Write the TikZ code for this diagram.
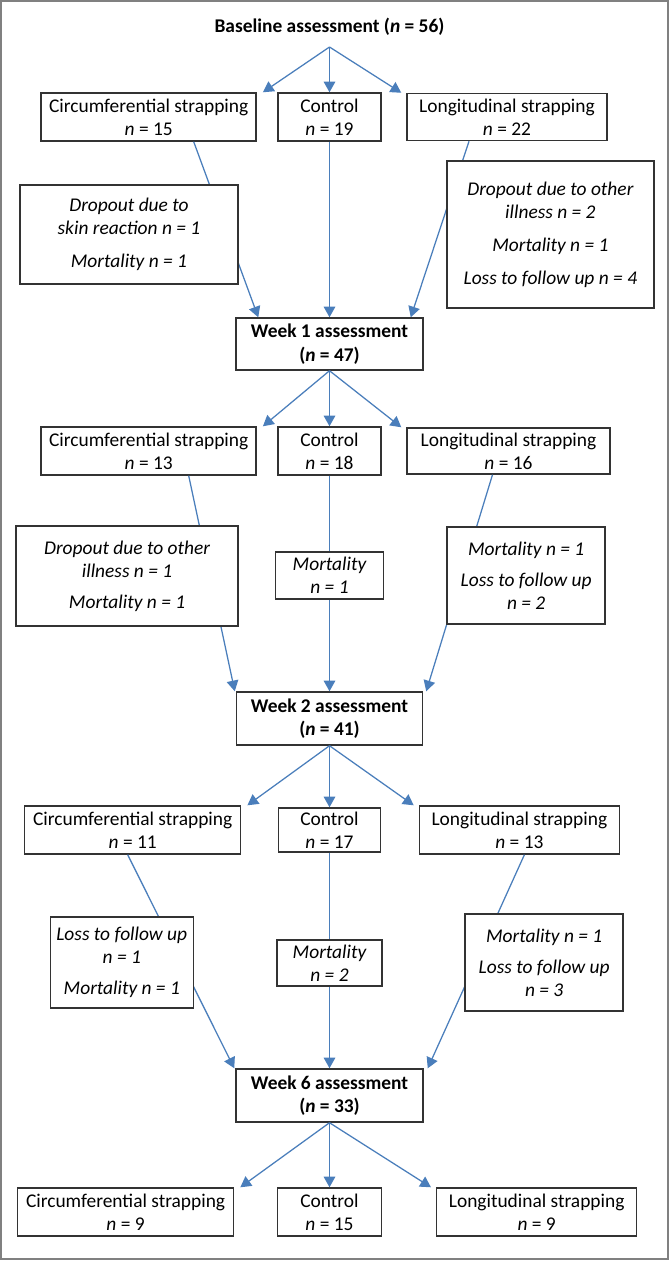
\documentclass[tikz,border=0pt]{standalone}
\usepackage{fontspec}
\setmainfont{Carlito}
\usetikzlibrary{calc,arrows.meta}
\definecolor{flowblue}{RGB}{74,126,187}
\definecolor{framegray}{RGB}{128,128,128}

\begin{document}
\begin{tikzpicture}[x=0.515pt, y=-0.515pt,
  wh/.style 2 args={minimum width=#1*0.515pt, minimum height=#2*0.515pt},
  box/.style={draw=black!80, line width=0.75pt, fill=white, align=center, inner sep=0pt},
  head/.style={box, font=\bfseries},
  note/.style={box, font=\itshape},
  link/.style={draw=flowblue, line width=0.65pt},
  flow/.style={link, -{Triangle[length=5.5pt, width=6pt]}}]
\useasboundingbox (0,0) rectangle (670,1261);
\draw[framegray, line width=1.2pt] (1,1) rectangle (668,1259);

% groups and assessments
\node[font=\bfseries] (t0) at (329.5,27) {Baseline assessment (\textit{n} = 56)};
\coordinate (s0) at (329.5,47);

\node[box, wh={215}{48}] (c1) at (148.7,117) {Circumferential strapping\\\textit{n} = 15};
\node[box, wh={103}{48}] (k1) at (329.5,117) {Control\\\textit{n} = 19};
\node[box, wh={200}{47}] (l1) at (507,117) {Longitudinal strapping\\\textit{n} = 22};
\node[head, wh={187}{52}] (w1) at (329.5,344) {Week 1 assessment\\(\textit{n} = 47)};

\node[box, wh={215}{48}] (c2) at (148.7,451) {Circumferential strapping\\\textit{n} = 13};
\node[box, wh={103}{48}] (k2) at (329.5,451) {Control\\\textit{n} = 18};
\node[box, wh={203}{46}] (l2) at (508.5,451) {Longitudinal strapping\\\textit{n} = 16};
\node[head, wh={186}{53}] (w2) at (329.5,718.5) {Week 2 assessment\\(\textit{n} = 41)};

\node[box, wh={216}{48}] (c3) at (132.7,830) {Circumferential strapping\\\textit{n} = 11};
\node[box, wh={102}{44}] (k3) at (329.5,830) {Control\\\textit{n} = 17};
\node[box, wh={200}{48}] (l3) at (519.4,830) {Longitudinal strapping\\\textit{n} = 13};
\node[head, wh={187}{53}] (w6) at (329.5,1095.5) {Week 6 assessment\\(\textit{n} = 33)};

\node[box, wh={216}{48}] (c4) at (125.6,1212) {Circumferential strapping\\\textit{n} = 9};
\node[box, wh={104}{48}] (k4) at (329.5,1212) {Control\\\textit{n} = 15};
\node[box, wh={200}{48}] (l4) at (536.7,1212) {Longitudinal strapping\\\textit{n} = 9};

% fan out to the three groups
\foreach \s/\c/\k/\l in {s0/c1/k1/l1, w1.south/c2/k2/l2, w2.south/c3/k3/l3, w6.south/c4/k4/l4}
  {
  \draw[flow] (\s) -- ($(\c.north east)+(6,0)$);
  \draw[flow] (\s) -- (\k.north);
  \draw[flow] (\s) -- ($(\l.north west)+(-5,0)$);
  }

\draw[flow] ($(c1.south)+(45,0)$) -- ($(w1.north west)+(23,0)$);
\draw[flow] (k1) -- (w1);
\draw[flow] ($(l1.south)+(-38,0)$) -- ($(w1.north east)+(-13,0)$);
\draw[flow] ($(c2.south)+(40,0)$) -- ($(w2.north west)+(-1,0)$);
\draw[flow] (k2) -- (w2);
\draw[flow] ($(l2.south)+(-16,0)$) -- ($(w2.north east)+(3,0)$);
\draw[flow] ($(c3.south)+(-5,0)$) -- ($(w6.north west)+(-1,0)$);
\draw[flow] (k3) -- (w6);
\draw[flow] ($(l3.south)+(5,0)$) -- ($(w6.north east)+(4,0)$);

% losses, drawn over the lines
\node[note, wh={218}{99}] (d1) at (129,234.5) {Dropout due to\\skin reaction \textit{n} = 1\\[5pt]Mortality \textit{n} = 1};
\node[note, wh={207}{147}] (r1) at (550.4,234.5) {Dropout due to other\\illness \textit{n} = 2\\[5pt]Mortality \textit{n} = 1\\[5pt]Loss to follow up \textit{n} = 4};

\node[note, wh={222}{100}] (d2) at (127.1,576) {Dropout due to other\\illness \textit{n} = 1\\[4pt]Mortality \textit{n} = 1};
\node[note, wh={108}{47}] (m2) at (329.5,575.5) {Mortality\\\textit{n} = 1};
\node[note, wh={158}{97}] (r2) at (526.2,575.5) {Mortality \textit{n} = 1\\[4pt]Loss to follow up\\\textit{n} = 2};

\node[note, wh={143}{91}] (d3) at (121.8,962.5) {Loss to follow up\\\textit{n} = 1\\[4pt]Mortality \textit{n} = 1};
\node[note, wh={105}{46}] (m3) at (329.5,963) {Mortality\\\textit{n} = 2};
\node[note, wh={158}{97}] (r3) at (544.2,962.5) {Mortality \textit{n} = 1\\[4pt]Loss to follow up\\\textit{n} = 3};

\end{tikzpicture}
\end{document}
